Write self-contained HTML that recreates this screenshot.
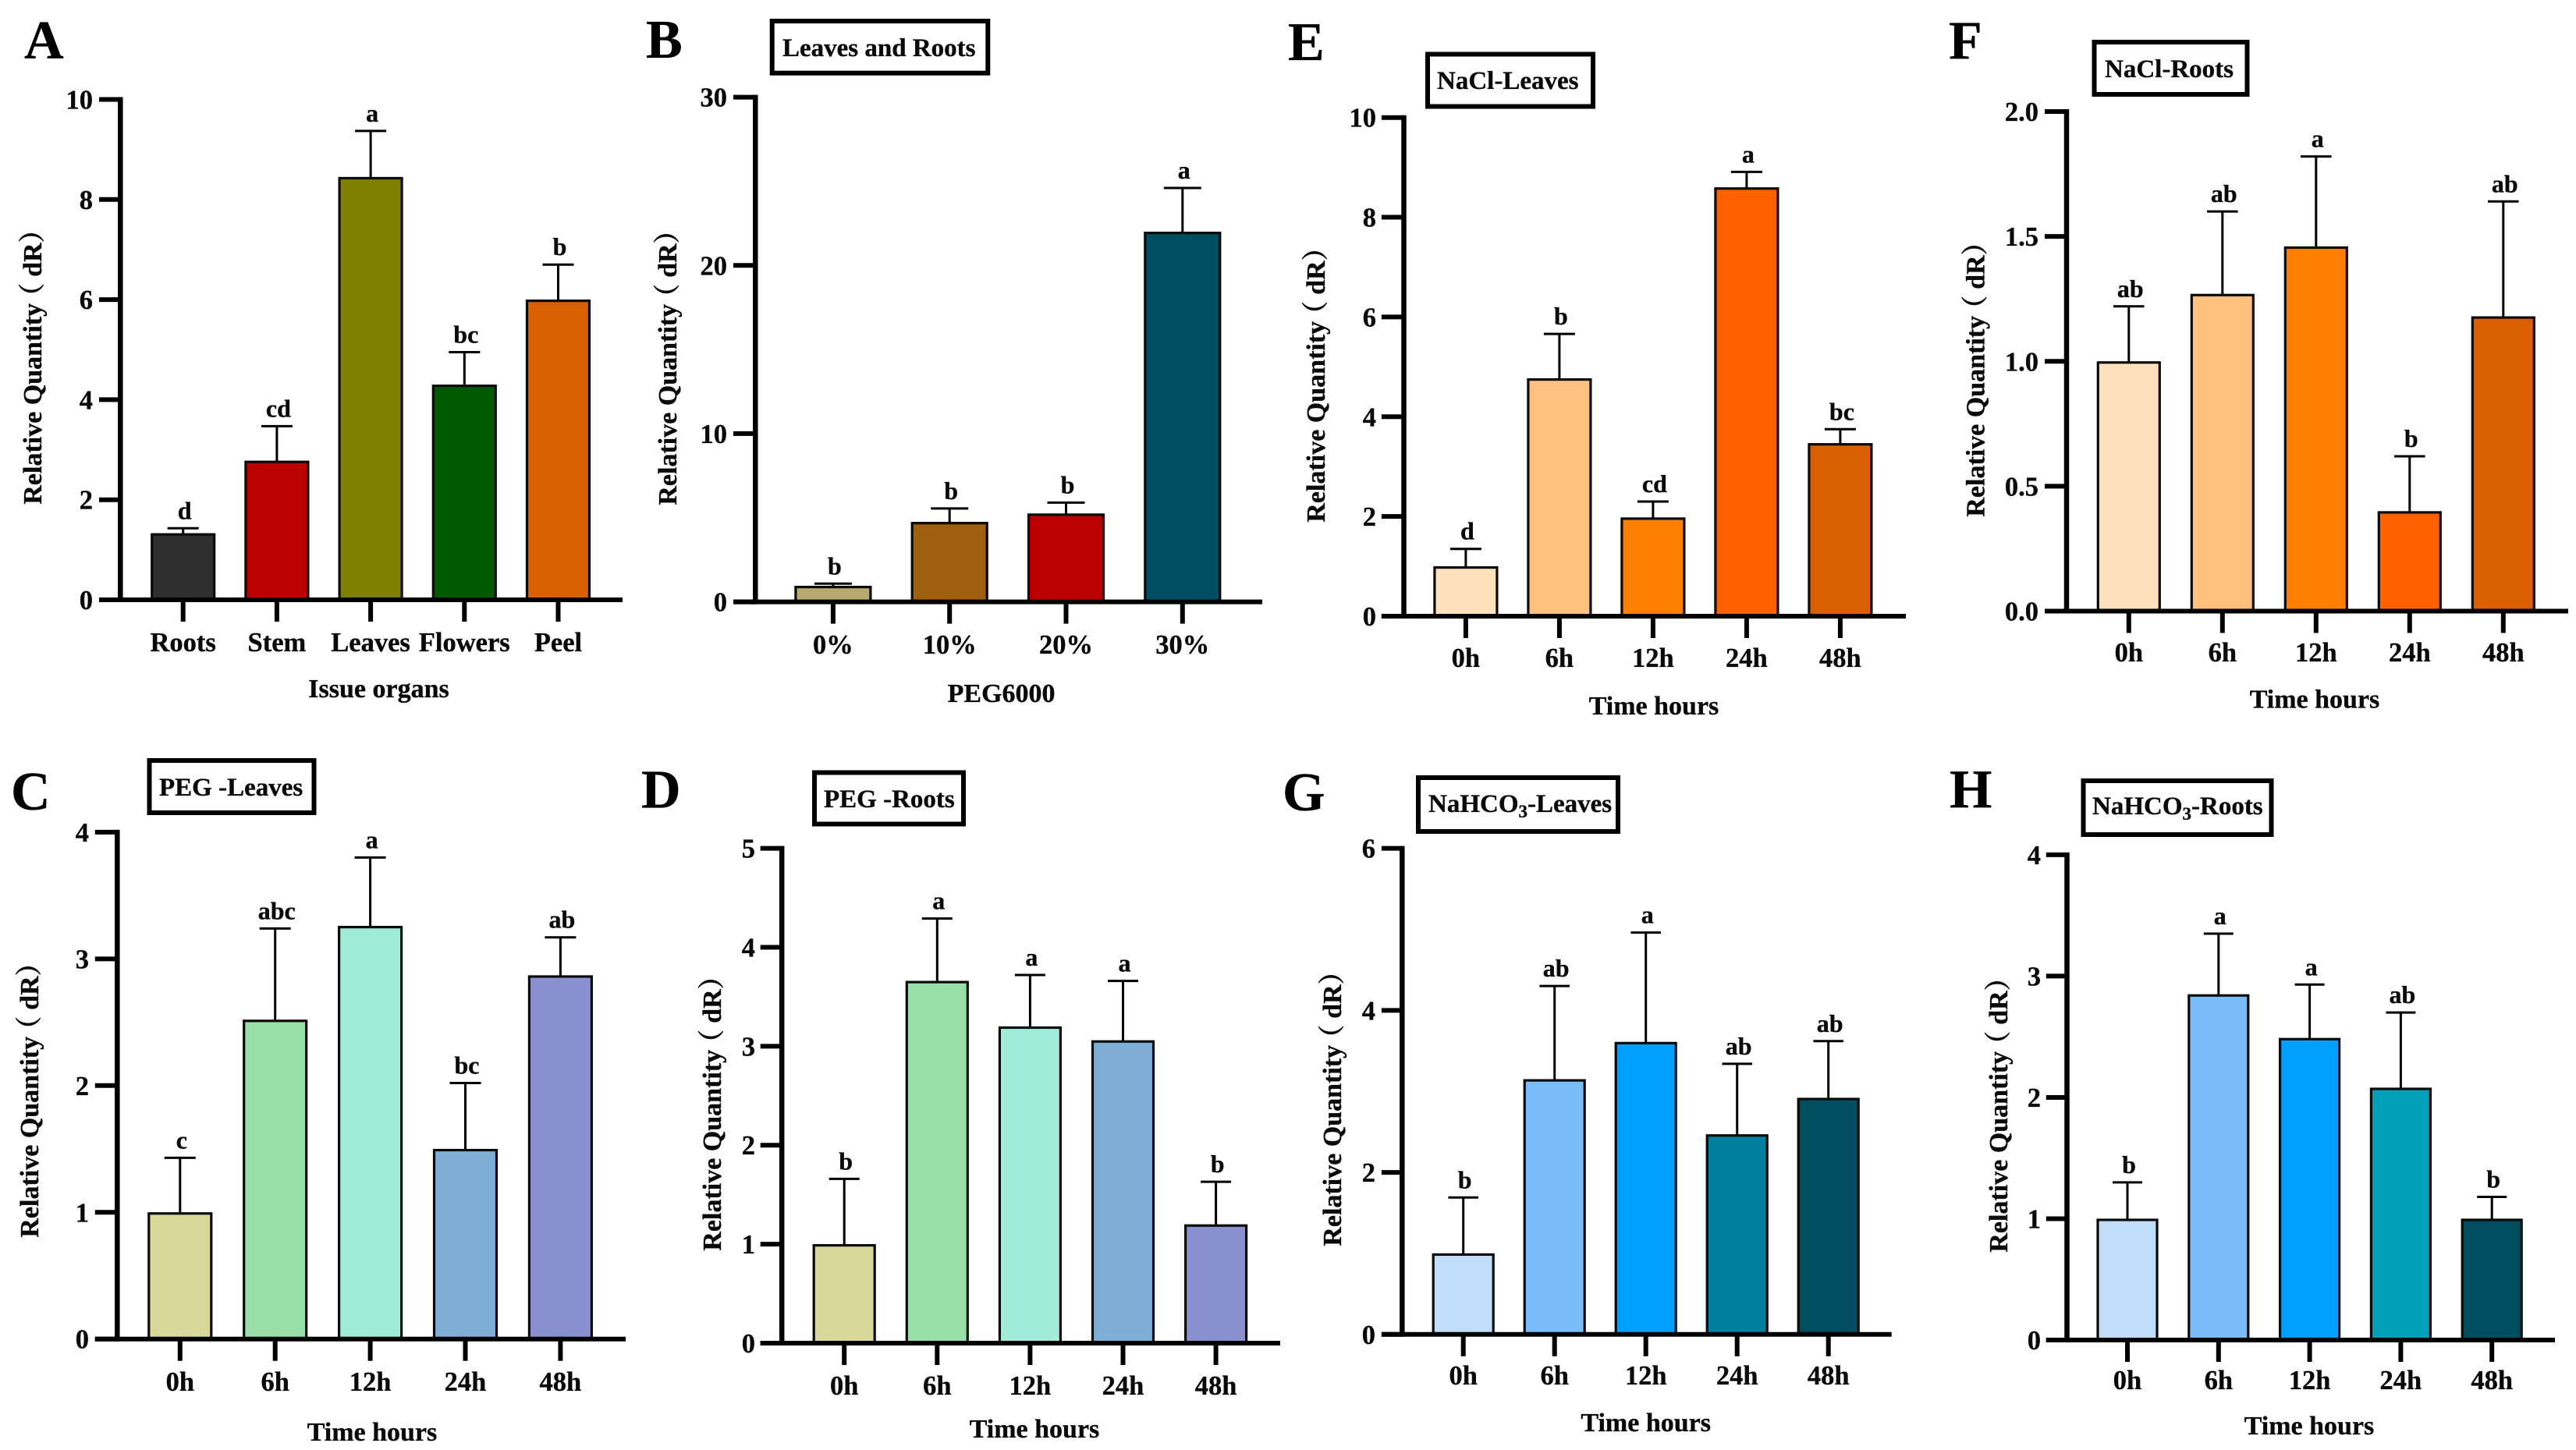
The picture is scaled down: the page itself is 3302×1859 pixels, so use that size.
<!DOCTYPE html>
<html lang="en">
<head>
<meta charset="utf-8">
<title>Relative Quantity bar chart panels</title>
<style>
html,body{margin:0;padding:0;background:#fff;}
svg{display:block;}
text{font-family:"Liberation Serif","Noto Serif CJK SC",serif;font-weight:bold;fill:#0a0a0a;stroke:#0a0a0a;stroke-width:0.35;}
.letter{font-size:70px;fill:#000;}
.box{fill:#fff;stroke:#000;stroke-width:6;}
.boxt{font-size:33px;}
.axt{font-size:34px;text-anchor:middle;}
</style>
</head>
<body>
<svg id="figure" xmlns="http://www.w3.org/2000/svg" width="3302" height="1859" viewBox="0 0 3302 1859">
<rect width="3302" height="1859" fill="#fff"/>

<g id="panel-a">
<text class="letter" x="31" y="75">A</text>
<text class="axt" transform="translate(53 462) rotate(-90)">Relative Quantity<tspan dx="-8">（</tspan><tspan dx="8">dR）</tspan></text>
<text class="axt" x="485.5" y="894">Issue organs</text>
</g>

<g id="panel-b">
<text class="letter" x="828" y="74">B</text>
<rect class="box" x="989.7" y="27" width="276.6" height="66.7"/>
<text class="boxt" x="1003" y="72">Leaves and Roots</text>
<text class="axt" transform="translate(867 463) rotate(-90)">Relative Quantity<tspan dx="-8">（</tspan><tspan dx="8">dR）</tspan></text>
<text class="axt" x="1283.6" y="900">PEG6000</text>
</g>

<g id="panel-c">
<text class="letter" x="14" y="1038">C</text>
<rect class="box" x="191.5" y="975" width="211" height="67"/>
<text class="boxt" x="204" y="1020">PEG -Leaves</text>
<text class="axt" transform="translate(49 1402) rotate(-90)">Relative Quantity<tspan dx="-8">（</tspan><tspan dx="8">dR）</tspan></text>
<text class="axt" x="477" y="1847">Time hours</text>
</g>

<g id="panel-d">
<text class="letter" x="822" y="1035.5">D</text>
<rect class="box" x="1044" y="990.5" width="191" height="66"/>
<text class="boxt" x="1056" y="1035">PEG -Roots</text>
<text class="axt" transform="translate(924 1419) rotate(-90)">Relative Quantity<tspan dx="-8">（</tspan><tspan dx="8">dR）</tspan></text>
<text class="axt" x="1326" y="1843">Time hours</text>
</g>

<g id="panel-e">
<text class="letter" x="1651" y="77">E</text>
<rect class="box" x="1830" y="69.5" width="212" height="67"/>
<text class="boxt" x="1842" y="114">NaCl-Leaves</text>
<text class="axt" transform="translate(1698 485) rotate(-90)">Relative Quantity<tspan dx="-8">（</tspan><tspan dx="8">dR）</tspan></text>
<text class="axt" x="2120" y="916">Time hours</text>
</g>

<g id="panel-f">
<text class="letter" x="2498" y="75">F</text>
<rect class="box" x="2684.5" y="54" width="196" height="67"/>
<text class="boxt" x="2698" y="99">NaCl-Roots</text>
<text class="axt" transform="translate(2543.5 478) rotate(-90)">Relative Quantity<tspan dx="-8">（</tspan><tspan dx="8">dR）</tspan></text>
<text class="axt" x="2967" y="907.5">Time hours</text>
</g>

<g id="panel-g">
<text class="letter" x="1644" y="1039">G</text>
<rect class="box" x="1818" y="997" width="256" height="69"/>
<text class="boxt" x="1831" y="1041">NaHCO<tspan font-size="23" dy="7">3</tspan><tspan dy="-7">-Leaves</tspan></text>
<text class="axt" transform="translate(1719 1413) rotate(-90)">Relative Quantity<tspan dx="-8">（</tspan><tspan dx="8">dR）</tspan></text>
<text class="axt" x="2109.7" y="1835">Time hours</text>
</g>

<g id="panel-h">
<text class="letter" x="2499" y="1035">H</text>
<rect class="box" x="2670.5" y="1001" width="241" height="69"/>
<text class="boxt" x="2682" y="1044">NaHCO<tspan font-size="23" dy="7">3</tspan><tspan dy="-7">-Roots</tspan></text>
<text class="axt" transform="translate(2573 1421) rotate(-90)">Relative Quantity<tspan dx="-8">（</tspan><tspan dx="8">dR）</tspan></text>
<text class="axt" x="2960" y="1839">Time hours</text>
</g>
</svg>

<script>
// ---- data ----
const timeCategories = ["0h", "6h", "12h", "24h", "48h"];

const panelACategories = ["Roots", "Stem", "Leaves", "Flowers", "Peel"];
const panelAValues = [1.33, 2.78, 8.45, 4.30, 6.00];
const panelAErrors = [0.10, 0.69, 0.92, 0.65, 0.70];
const panelALetters = ["d", "cd", "a", "bc", "b"];
const panelATicks = ["0", "2", "4", "6", "8", "10"];

const panelBCategories = ["0%", "10%", "20%", "30%"];
const panelBValues = [0.95, 4.75, 5.25, 22.0];
const panelBErrors = [0.13, 0.80, 0.65, 2.6];
const panelBLetters = ["b", "b", "b", "a"];
const panelBTicks = ["0", "10", "20", "30"];

const panelCValues = [1.0, 2.52, 3.26, 1.50, 2.87];
const panelCErrors = [0.43, 0.72, 0.54, 0.52, 0.30];
const panelCLetters = ["c", "abc", "a", "bc", "ab"];
const panelCTicks = ["0", "1", "2", "3", "4"];

const panelDValues = [1.0, 3.66, 3.20, 3.06, 1.20];
const panelDErrors = [0.66, 0.63, 0.52, 0.60, 0.43];
const panelDLetters = ["b", "a", "a", "a", "b"];
const panelDTicks = ["0", "1", "2", "3", "4", "5"];

const panelEValues = [1.0, 4.77, 1.98, 8.60, 3.47];
const panelEErrors = [0.35, 0.89, 0.32, 0.31, 0.28];
const panelELetters = ["d", "b", "cd", "a", "bc"];
const panelETicks = ["0", "2", "4", "6", "8", "10"];

const panelFValues = [1.0, 1.27, 1.46, 0.40, 1.18];
const panelFErrors = [0.22, 0.33, 0.36, 0.22, 0.46];
const panelFLetters = ["ab", "ab", "a", "b", "ab"];
const panelFTicks = ["0.0", "0.5", "1.0", "1.5", "2.0"];

const panelGValues = [1.0, 3.15, 3.61, 2.47, 2.92];
const panelGErrors = [0.69, 1.15, 1.35, 0.87, 0.70];
const panelGLetters = ["b", "ab", "a", "ab", "ab"];
const panelGTicks = ["0", "2", "4", "6"];

const panelHValues = [1.0, 2.85, 2.49, 2.08, 1.0];
const panelHErrors = [0.30, 0.50, 0.44, 0.62, 0.18];
const panelHLetters = ["b", "a", "a", "ab", "b"];
const panelHTicks = ["0", "1", "2", "3", "4"];

// ---- colours ----
const paletteA = ["#2f2f2f", "#bb0000", "#808000", "#005a00", "#d95f00"];
const paletteB = ["#b8a970", "#a06010", "#bb0000", "#004d60"];
const paletteGreen = ["#d8d898", "#98e0a8", "#a0ecd8", "#7eaed6", "#8a90cf"];
const paletteOrange = ["#fde0bc", "#ffc080", "#ff8000", "#ff6000", "#d95f00"];
const paletteBlueG = ["#c0defa", "#78bcfa", "#00a0ff", "#00809c", "#004d60"];
const paletteBlueH = ["#c0defa", "#78bcfa", "#00a0ff", "#00a0b8", "#004d60"];

// ---- drawing ----
const NS = "http://www.w3.org/2000/svg";

function make(parent, tag, attrs) {
  const el = document.createElementNS(NS, tag);
  for (const k in attrs) el.setAttribute(k, attrs[k]);
  parent.appendChild(el);
  return el;
}

function drawPanel(id, layout, cats, values, errors, letters, ticks, colors) {
  const host = document.getElementById("panel-" + id);
  const yScale = function (v) {
    const maxV = Number(ticks[ticks.length - 1]);
    return layout.y0 - (v / maxV) * (layout.y0 - layout.yTop);
  };
  const xScale = function (i) {
    return layout.xFirst + i * layout.xStep;
  };
  const half = layout.barW / 2;
  const capHalf = layout.barW / 4;

  cats.forEach(function (cat, i) {
    const cx = xScale(i);
    const top = yScale(values[i]) + 1.5;
    const errTop = yScale(values[i] + errors[i]);

    const stem = make(host, "line", {x1: cx, x2: cx, y1: top, y2: errTop, stroke: "#000", "stroke-width": 3});
    
    

    const cap = make(host, "line", {x1: cx - capHalf, x2: cx + capHalf, y1: errTop, y2: errTop, stroke: "#000", "stroke-width": 3});
    
    

    const bar = make(host, "rect", {x: cx - half, y: top, width: layout.barW, height: layout.y0 - top, fill: colors[i], stroke: "#0a0a0a", "stroke-width": 3.2});
    
    

    const sig = make(host, "text", {x: cx + 2, y: errTop - 12, "text-anchor": "middle", "font-size": 32});
    
    
    sig.textContent = letters[i];

    const tick = make(host, "line", {x1: cx, x2: cx, y1: layout.y0, y2: layout.y0 + 28, stroke: "#000", "stroke-width": 6});
    
    

    const label = make(host, "text", {x: cx, y: layout.xLabelY, "text-anchor": "middle", "font-size": 34.5});
    
    
    label.textContent = cat;
  });

  ticks.forEach(function (t, i) {
    const ty = yScale(Number(t));
    const tick = make(host, "line", {x1: layout.axisLeft, x2: layout.spineX, y1: ty, y2: ty, stroke: "#000", "stroke-width": 6});
    
    

    const label = make(host, "text", {x: layout.yLabelRight, y: ty + 12, "text-anchor": "end", "font-size": 34.5});
    
    
    label.textContent = t;
  });

  const spine = make(host, "line", {x1: layout.spineX, x2: layout.spineX, y1: layout.yTop - 3, y2: layout.y0 + 3, stroke: "#000", "stroke-width": 6.5});
  
  

  const base = make(host, "line", {x1: layout.axisLeft, x2: layout.xRight, y1: layout.y0, y2: layout.y0, stroke: "#000", "stroke-width": 6});
  
  
}

drawPanel("a", {spineX: 154.3, axisLeft: 127, xRight: 798, y0: 769, yTop: 127.5, xFirst: 234.7, xStep: 120.2, barW: 80, xLabelY: 835, yLabelRight: 119},
  panelACategories, panelAValues, panelAErrors, panelALetters, panelATicks, paletteA);
drawPanel("b", {spineX: 968.3, axisLeft: 940, xRight: 1618, y0: 771.6, yTop: 124.6, xFirst: 1067.9, xStep: 149.3, barW: 96, xLabelY: 838, yLabelRight: 932},
  panelBCategories, panelBValues, panelBErrors, panelBLetters, panelBTicks, paletteB);
drawPanel("c", {spineX: 150.3, axisLeft: 121.8, xRight: 802, y0: 1716.7, yTop: 1066.9, xFirst: 230.8, xStep: 121.9, barW: 80, xLabelY: 1783, yLabelRight: 114},
  timeCategories, panelCValues, panelCErrors, panelCLetters, panelCTicks, paletteGreen);
drawPanel("d", {spineX: 1002.2, axisLeft: 974.7, xRight: 1641, y0: 1722, yTop: 1087.6, xFirst: 1082.2, xStep: 119.1, barW: 78, xLabelY: 1788, yLabelRight: 968},
  timeCategories, panelDValues, panelDErrors, panelDLetters, panelDTicks, paletteGreen);
drawPanel("e", {spineX: 1799.5, axisLeft: 1770.9, xRight: 2443, y0: 790, yTop: 150.7, xFirst: 1878.9, xStep: 120.0, barW: 80, xLabelY: 855, yLabelRight: 1764},
  timeCategories, panelEValues, panelEErrors, panelELetters, panelETicks, paletteOrange);
drawPanel("f", {spineX: 2649, axisLeft: 2621, xRight: 3292, y0: 783.5, yTop: 143, xFirst: 2728.8, xStep: 120.0, barW: 79, xLabelY: 848, yLabelRight: 2613},
  timeCategories, panelFValues, panelFErrors, panelFLetters, panelFTicks, paletteOrange);
drawPanel("g", {spineX: 1797.3, axisLeft: 1770.9, xRight: 2424.7, y0: 1710.8, yTop: 1087.6, xFirst: 1875.7, xStep: 117.0, barW: 77, xLabelY: 1775, yLabelRight: 1763},
  timeCategories, panelGValues, panelGErrors, panelGLetters, panelGTicks, paletteBlueG);
drawPanel("h", {spineX: 2649.5, axisLeft: 2622.8, xRight: 3275, y0: 1718, yTop: 1095.9, xFirst: 2727, xStep: 116.8, barW: 76, xLabelY: 1781, yLabelRight: 2616},
  timeCategories, panelHValues, panelHErrors, panelHLetters, panelHTicks, paletteBlueH);
</script>
</body>
</html>
